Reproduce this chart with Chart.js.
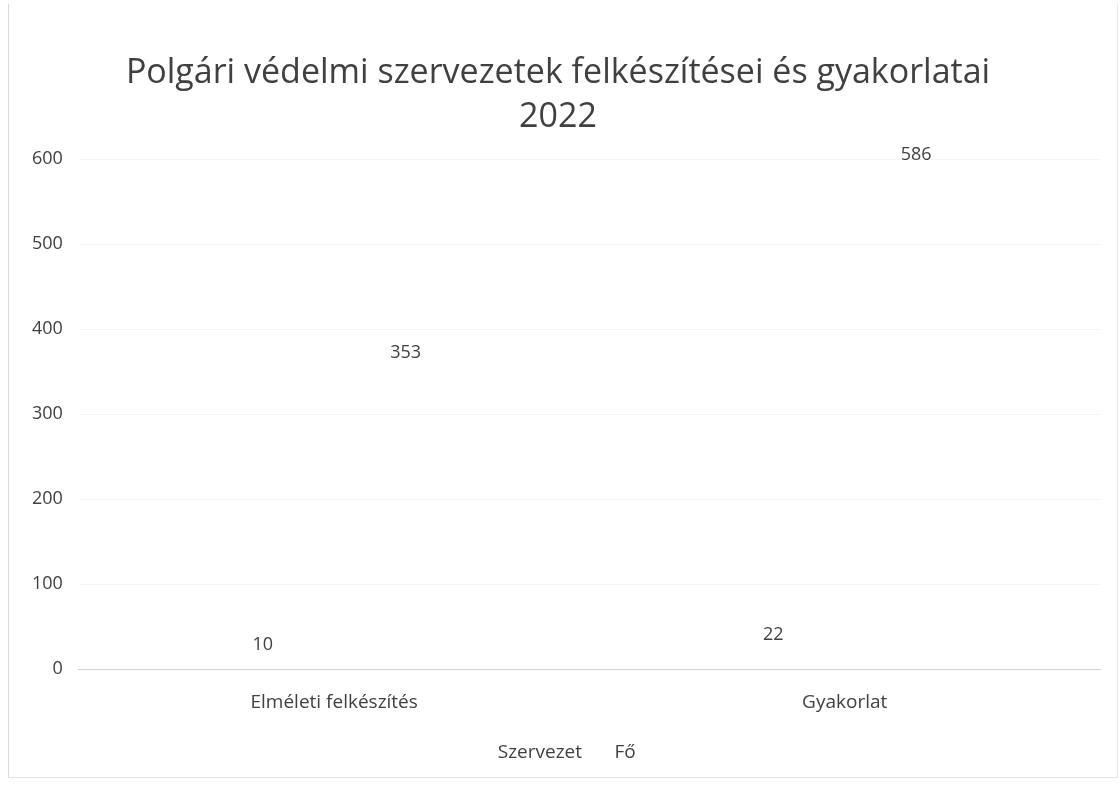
<!DOCTYPE html>
<html>
<head>
<meta charset="utf-8">
<script src="https://cdn.jsdelivr.net/npm/chart.js@4/dist/chart.umd.min.js"></script>
<style>
  html, body { margin: 0; padding: 0; background: #fff; }
  #wrap { position: relative; width: 1120px; height: 788px; }
  #frame { position: absolute; left: 8px; top: 4px; width: 1110px; height: 774px;
           border-left: 1px solid #d8d8d8; border-bottom: 1px solid #e4e4e4; border-right: 1px solid #e8e8e8; box-sizing: border-box; }
</style>
</head>
<body>
<div id="wrap">
  <div id="frame"></div>
  <canvas id="chart" width="1120" height="788"></canvas>
</div>
<script>
const categories = ['Elméleti felkészítés', 'Gyakorlat'];
const seriesNames = ['Szervezet', 'Fő'];
const szervezet = [10, 22];
const fo = [353, 586];
const yTicks = [0, 100, 200, 300, 400, 500, 600];

const textColor = '#404040';
const barFill = 'rgba(255,255,255,0)';

// draws the number above each bar
const valueLabels = {
  id: 'valueLabels',
  afterDatasetsDraw(chart) {
    const ctx = chart.ctx;
    ctx.save();
    ctx.font = '18px "Open Sans"';
    ctx.fillStyle = textColor;
    ctx.textAlign = 'center';
    ctx.textBaseline = 'bottom';
    chart.data.datasets.forEach(function(ds, i) {
      const meta = chart.getDatasetMeta(i);
      meta.data.forEach(function(bar, j) {
        ctx.fillText(ds.data[j], bar.x, bar.y - 7);
      });
    });
    ctx.restore();
  }
};

new Chart(document.getElementById('chart'), {
  type: 'bar',
  data: {
    labels: categories,
    datasets: [
      { label: seriesNames[0], data: szervezet, backgroundColor: barFill, borderWidth: 0 },
      { label: seriesNames[1], data: fo, backgroundColor: barFill, borderWidth: 0 }
    ]
  },
  options: {
    responsive: false,
    animation: false,
    categoryPercentage: 0.56,
    barPercentage: 0.8,
    layout: { padding: { left: 16, right: 20, top: 52, bottom: 16 } },
    plugins: {
      title: {
        display: true,
        text: ['Polgári védelmi szervezetek felkészítései és gyakorlatai', '2022'],
        color: textColor,
        font: { family: '"Open Sans"', size: 34, weight: 'normal', lineHeight: 1.28 },
        padding: { top: 0, bottom: 20 }
      },
      legend: {
        position: 'bottom',
        labels: {
          color: textColor,
          font: { family: '"Open Sans"', size: 19 },
          boxWidth: 8,
          boxHeight: 8,
          padding: 15
        }
      },
      tooltip: { enabled: false }
    },
    scales: {
      x: {
        grid: { display: false },
        border: { color: '#d0d0d0' },
        ticks: { color: textColor, font: { family: '"Open Sans"', size: 19 }, padding: 14 }
      },
      y: {
        min: 0,
        max: 600,
        afterBuildTicks: function(axis) { axis.ticks = yTicks.map(function(v) { return { value: v }; }); },
        grid: { color: '#f4f4f4', drawTicks: false },
        border: { display: false },
        ticks: { color: textColor, font: { family: '"Open Sans"', size: 18 }, padding: 16 }
      }
    }
  },
  plugins: [valueLabels]
});
</script>
</body>
</html>
